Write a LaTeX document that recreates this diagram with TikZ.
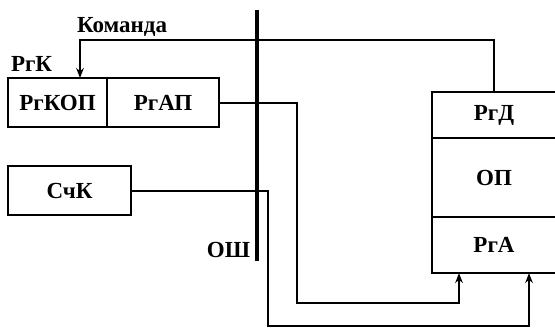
\documentclass[tikz,border=0pt]{standalone}
\usepackage{fontspec}
\setmainfont{Liberation Serif}
\usetikzlibrary{arrows.meta,positioning,calc}

\begin{document}
\begin{tikzpicture}[>={Stealth[length=5pt,width=3.8pt]}, x=0.5pt, y=-0.5pt, line width=1pt,
  font=\fontsize{11.5}{13}\selectfont\bfseries]
\tikzstyle{reg}=[rectangle,draw,line width=1.1pt,inner sep=0pt,outer sep=0pt,minimum height=24.5pt]
\useasboundingbox (0,0) rectangle (555,328);
\node[reg,minimum width=49.5pt] (rgkop) at (57.5,102.5) {РгКОП};
\node[reg,minimum width=56pt,right=0pt of rgkop] (rgap) {РгАП};
\node[reg,minimum width=61.5pt] (sck) at (69.5,190.5) {СчК};
\node[reg,minimum width=62pt,minimum height=23pt] (rgd) at (494,115) {РгД};
\node[reg,minimum width=62pt,minimum height=39.5pt,below=0pt of rgd] (op) {ОП};
\node[reg,minimum width=62pt,minimum height=28pt,below=0pt of op] (rga) {РгА};
\node[anchor=south west,inner sep=0pt] (rgk) at (10,72) {РгК};
\node (cmd) at (122,27) {Команда};
\coordinate (bustop) at (257,10);
\coordinate (busbot) at (257,261);
\node[anchor=south east,inner sep=0pt] (osh) at (251,259) {ОШ};
\draw[line width=2.4pt] (bustop) -- (busbot);
\coordinate (cmdin) at ($(rgkop.north)+(22.5,0)$);
\draw[->] (rgd.north) |- ($(cmdin)+(0,-38)$) -- (cmdin);
\draw[->] (rgap.east) -| (297,303) -| ($(rga.south)+(-35,0)$);
\draw[->] (sck.east) -| (268,326) -| ($(rga.south)+(35,0)$);
\end{tikzpicture}
\end{document}
